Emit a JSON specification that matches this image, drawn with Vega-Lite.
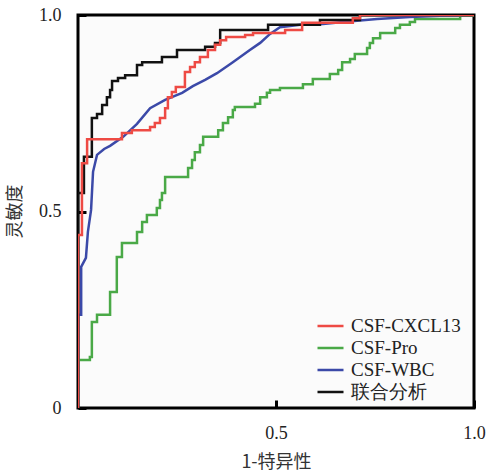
{
  "$schema": "https://vega.github.io/schema/vega-lite/v6.json",
  "width": 396,
  "height": 393,
  "autosize": {"type": "none"},
  "padding": {"left": 78, "top": 15, "right": 13, "bottom": 64},
  "background": "white",
  "config": {
    "view": {"stroke": "black", "strokeWidth": 3, "fill": "#fbfbfb"},
    "axis": {"grid": false, "domain": false, "labelFlush": false, "labelFont": "Liberation Serif", "labelFontSize": 18, "labelColor": "#222", "titleFont": "Noto Sans CJK SC", "titleFontSize": 18, "titleFontWeight": "normal", "titleColor": "#333", "tickColor": "black", "tickWidth": 3, "tickSize": -8}
  },
  "datasets": {
    "roc": [
      {"s": "联合分析", "i": 0, "x": 0, "y": 0},
      {"s": "联合分析", "i": 1, "x": 0, "y": 0.547},
      {"s": "联合分析", "i": 2, "x": 0.015, "y": 0.639},
      {"s": "联合分析", "i": 3, "x": 0.035, "y": 0.738},
      {"s": "联合分析", "i": 4, "x": 0.048, "y": 0.748},
      {"s": "联合分析", "i": 5, "x": 0.061, "y": 0.771},
      {"s": "联合分析", "i": 6, "x": 0.073, "y": 0.791},
      {"s": "联合分析", "i": 7, "x": 0.081, "y": 0.809},
      {"s": "联合分析", "i": 8, "x": 0.086, "y": 0.832},
      {"s": "联合分析", "i": 9, "x": 0.101, "y": 0.84},
      {"s": "联合分析", "i": 10, "x": 0.119, "y": 0.847},
      {"s": "联合分析", "i": 11, "x": 0.149, "y": 0.873},
      {"s": "联合分析", "i": 12, "x": 0.162, "y": 0.88},
      {"s": "联合分析", "i": 13, "x": 0.212, "y": 0.893},
      {"s": "联合分析", "i": 14, "x": 0.25, "y": 0.911},
      {"s": "联合分析", "i": 15, "x": 0.321, "y": 0.919},
      {"s": "联合分析", "i": 16, "x": 0.346, "y": 0.929},
      {"s": "联合分析", "i": 17, "x": 0.359, "y": 0.962},
      {"s": "联合分析", "i": 18, "x": 0.48, "y": 0.975},
      {"s": "联合分析", "i": 19, "x": 0.611, "y": 0.987},
      {"s": "联合分析", "i": 20, "x": 0.712, "y": 1},
      {"s": "联合分析", "i": 21, "x": 1, "y": 1},

      {"s": "CSF-CXCL13", "i": 0, "x": 0, "y": 0},
      {"s": "CSF-CXCL13", "i": 1, "x": 0, "y": 0.44},
      {"s": "CSF-CXCL13", "i": 2, "x": 0.01, "y": 0.623},
      {"s": "CSF-CXCL13", "i": 3, "x": 0.023, "y": 0.684},
      {"s": "CSF-CXCL13", "i": 4, "x": 0.111, "y": 0.7},
      {"s": "CSF-CXCL13", "i": 5, "x": 0.136, "y": 0.707},
      {"s": "CSF-CXCL13", "i": 6, "x": 0.182, "y": 0.715},
      {"s": "CSF-CXCL13", "i": 7, "x": 0.194, "y": 0.725},
      {"s": "CSF-CXCL13", "i": 8, "x": 0.207, "y": 0.738},
      {"s": "CSF-CXCL13", "i": 9, "x": 0.22, "y": 0.763},
      {"s": "CSF-CXCL13", "i": 10, "x": 0.227, "y": 0.791},
      {"s": "CSF-CXCL13", "i": 11, "x": 0.237, "y": 0.804},
      {"s": "CSF-CXCL13", "i": 12, "x": 0.247, "y": 0.817},
      {"s": "CSF-CXCL13", "i": 13, "x": 0.27, "y": 0.855},
      {"s": "CSF-CXCL13", "i": 14, "x": 0.283, "y": 0.868},
      {"s": "CSF-CXCL13", "i": 15, "x": 0.295, "y": 0.88},
      {"s": "CSF-CXCL13", "i": 16, "x": 0.308, "y": 0.893},
      {"s": "CSF-CXCL13", "i": 17, "x": 0.328, "y": 0.911},
      {"s": "CSF-CXCL13", "i": 18, "x": 0.346, "y": 0.924},
      {"s": "CSF-CXCL13", "i": 19, "x": 0.359, "y": 0.936},
      {"s": "CSF-CXCL13", "i": 20, "x": 0.374, "y": 0.944},
      {"s": "CSF-CXCL13", "i": 21, "x": 0.422, "y": 0.949},
      {"s": "CSF-CXCL13", "i": 22, "x": 0.442, "y": 0.954},
      {"s": "CSF-CXCL13", "i": 23, "x": 0.523, "y": 0.962},
      {"s": "CSF-CXCL13", "i": 24, "x": 0.566, "y": 0.98},
      {"s": "CSF-CXCL13", "i": 25, "x": 0.694, "y": 0.992},
      {"s": "CSF-CXCL13", "i": 26, "x": 0.712, "y": 1},
      {"s": "CSF-CXCL13", "i": 27, "x": 1, "y": 1},

      {"s": "CSF-Pro", "i": 0, "x": 0, "y": 0},
      {"s": "CSF-Pro", "i": 1, "x": 0, "y": 0.122},
      {"s": "CSF-Pro", "i": 2, "x": 0.03, "y": 0.13},
      {"s": "CSF-Pro", "i": 3, "x": 0.035, "y": 0.219},
      {"s": "CSF-Pro", "i": 4, "x": 0.048, "y": 0.237},
      {"s": "CSF-Pro", "i": 5, "x": 0.081, "y": 0.295},
      {"s": "CSF-Pro", "i": 6, "x": 0.098, "y": 0.384},
      {"s": "CSF-Pro", "i": 7, "x": 0.111, "y": 0.42},
      {"s": "CSF-Pro", "i": 8, "x": 0.149, "y": 0.448},
      {"s": "CSF-Pro", "i": 9, "x": 0.162, "y": 0.473},
      {"s": "CSF-Pro", "i": 10, "x": 0.174, "y": 0.491},
      {"s": "CSF-Pro", "i": 11, "x": 0.199, "y": 0.509},
      {"s": "CSF-Pro", "i": 12, "x": 0.207, "y": 0.529},
      {"s": "CSF-Pro", "i": 13, "x": 0.212, "y": 0.547},
      {"s": "CSF-Pro", "i": 14, "x": 0.22, "y": 0.588},
      {"s": "CSF-Pro", "i": 15, "x": 0.278, "y": 0.611},
      {"s": "CSF-Pro", "i": 16, "x": 0.288, "y": 0.631},
      {"s": "CSF-Pro", "i": 17, "x": 0.295, "y": 0.651},
      {"s": "CSF-Pro", "i": 18, "x": 0.308, "y": 0.669},
      {"s": "CSF-Pro", "i": 19, "x": 0.316, "y": 0.69},
      {"s": "CSF-Pro", "i": 20, "x": 0.354, "y": 0.707},
      {"s": "CSF-Pro", "i": 21, "x": 0.366, "y": 0.725},
      {"s": "CSF-Pro", "i": 22, "x": 0.379, "y": 0.74},
      {"s": "CSF-Pro", "i": 23, "x": 0.391, "y": 0.758},
      {"s": "CSF-Pro", "i": 24, "x": 0.396, "y": 0.766},
      {"s": "CSF-Pro", "i": 25, "x": 0.447, "y": 0.774},
      {"s": "CSF-Pro", "i": 26, "x": 0.46, "y": 0.791},
      {"s": "CSF-Pro", "i": 27, "x": 0.477, "y": 0.802},
      {"s": "CSF-Pro", "i": 28, "x": 0.485, "y": 0.809},
      {"s": "CSF-Pro", "i": 29, "x": 0.51, "y": 0.814},
      {"s": "CSF-Pro", "i": 30, "x": 0.568, "y": 0.824},
      {"s": "CSF-Pro", "i": 31, "x": 0.593, "y": 0.837},
      {"s": "CSF-Pro", "i": 32, "x": 0.636, "y": 0.85},
      {"s": "CSF-Pro", "i": 33, "x": 0.657, "y": 0.86},
      {"s": "CSF-Pro", "i": 34, "x": 0.667, "y": 0.88},
      {"s": "CSF-Pro", "i": 35, "x": 0.687, "y": 0.888},
      {"s": "CSF-Pro", "i": 36, "x": 0.699, "y": 0.901},
      {"s": "CSF-Pro", "i": 37, "x": 0.73, "y": 0.916},
      {"s": "CSF-Pro", "i": 38, "x": 0.737, "y": 0.929},
      {"s": "CSF-Pro", "i": 39, "x": 0.745, "y": 0.941},
      {"s": "CSF-Pro", "i": 40, "x": 0.763, "y": 0.954},
      {"s": "CSF-Pro", "i": 41, "x": 0.801, "y": 0.967},
      {"s": "CSF-Pro", "i": 42, "x": 0.813, "y": 0.975},
      {"s": "CSF-Pro", "i": 43, "x": 0.838, "y": 0.982},
      {"s": "CSF-Pro", "i": 44, "x": 0.851, "y": 0.99},
      {"s": "CSF-Pro", "i": 45, "x": 0.965, "y": 0.998},
      {"s": "CSF-Pro", "i": 46, "x": 1, "y": 0.998},

      {"s": "CSF-WBC", "i": 0, "x": 0, "y": 0},
      {"s": "CSF-WBC", "i": 1, "x": 0, "y": 0.237},
      {"s": "CSF-WBC", "i": 2, "x": 0.008, "y": 0.237},
      {"s": "CSF-WBC", "i": 3, "x": 0.008, "y": 0.359},
      {"s": "CSF-WBC", "i": 4, "x": 0.02, "y": 0.382},
      {"s": "CSF-WBC", "i": 5, "x": 0.025, "y": 0.448},
      {"s": "CSF-WBC", "i": 6, "x": 0.033, "y": 0.504},
      {"s": "CSF-WBC", "i": 7, "x": 0.038, "y": 0.601},
      {"s": "CSF-WBC", "i": 8, "x": 0.048, "y": 0.644},
      {"s": "CSF-WBC", "i": 9, "x": 0.066, "y": 0.659},
      {"s": "CSF-WBC", "i": 10, "x": 0.081, "y": 0.667},
      {"s": "CSF-WBC", "i": 11, "x": 0.114, "y": 0.69},
      {"s": "CSF-WBC", "i": 12, "x": 0.149, "y": 0.723},
      {"s": "CSF-WBC", "i": 13, "x": 0.182, "y": 0.763},
      {"s": "CSF-WBC", "i": 14, "x": 0.22, "y": 0.784},
      {"s": "CSF-WBC", "i": 15, "x": 0.263, "y": 0.802},
      {"s": "CSF-WBC", "i": 16, "x": 0.29, "y": 0.819},
      {"s": "CSF-WBC", "i": 17, "x": 0.321, "y": 0.835},
      {"s": "CSF-WBC", "i": 18, "x": 0.351, "y": 0.852},
      {"s": "CSF-WBC", "i": 19, "x": 0.391, "y": 0.88},
      {"s": "CSF-WBC", "i": 20, "x": 0.434, "y": 0.911},
      {"s": "CSF-WBC", "i": 21, "x": 0.46, "y": 0.929},
      {"s": "CSF-WBC", "i": 22, "x": 0.485, "y": 0.952},
      {"s": "CSF-WBC", "i": 23, "x": 0.51, "y": 0.969},
      {"s": "CSF-WBC", "i": 24, "x": 0.561, "y": 0.975},
      {"s": "CSF-WBC", "i": 25, "x": 0.619, "y": 0.977},
      {"s": "CSF-WBC", "i": 26, "x": 0.669, "y": 0.982},
      {"s": "CSF-WBC", "i": 27, "x": 0.755, "y": 0.99},
      {"s": "CSF-WBC", "i": 28, "x": 0.838, "y": 0.995},
      {"s": "CSF-WBC", "i": 29, "x": 0.914, "y": 0.998},
      {"s": "CSF-WBC", "i": 30, "x": 1, "y": 1}
    ]
  },
  "data": {"name": "roc"},
  "encoding": {
    "x": {"field": "x", "type": "quantitative", "scale": {"domain": [0, 1], "nice": false, "zero": false},
      "axis": {"values": [0.5, 1], "title": "1-特异性", "labelExpr": "format(datum.value, '.1f')", "labelPadding": 24, "titleX": 198, "titleY": 54, "titleBaseline": "middle", "titleAlign": "center"}},
    "y": {"field": "y", "type": "quantitative", "scale": {"domain": [0, 1], "nice": false, "zero": false},
      "axis": {"values": [0, 0.5, 1], "title": "灵敏度", "labelExpr": "datum.value == 0 ? '0' : format(datum.value, '.1f')", "labelPadding": 25, "titleX": -63, "titleY": 196, "titleAngle": -90, "titleBaseline": "middle", "titleAlign": "center"}},
    "color": {"field": "s", "type": "nominal",
      "scale": {"domain": ["CSF-CXCL13", "CSF-Pro", "CSF-WBC", "联合分析"], "range": ["#ee4a44", "#4aa947", "#3b49a8", "#111111"]},
      "legend": {"title": null, "orient": "none", "legendX": 238, "legendY": 301, "symbolType": "stroke", "symbolSize": 676, "symbolStrokeWidth": 2.5, "clipHeight": 20, "rowPadding": 2, "labelFont": "Liberation Serif", "labelFontSize": 19, "labelColor": "#222", "labelOffset": 6, "padding": 0}},
    "order": {"field": "i", "type": "quantitative"}
  },
  "layer": [
    {"transform": [{"filter": "datum.s == 'CSF-Pro'"}], "mark": {"type": "line", "interpolate": "step-after", "strokeWidth": 2.5, "clip": true}},
    {"transform": [{"filter": "datum.s == 'CSF-WBC'"}], "mark": {"type": "line", "interpolate": "linear", "strokeWidth": 2.5, "clip": true}},
    {"transform": [{"filter": "datum.s == '联合分析'"}], "mark": {"type": "line", "interpolate": "step-after", "strokeWidth": 2.5, "clip": true}},
    {"transform": [{"filter": "datum.s == 'CSF-CXCL13'"}], "mark": {"type": "line", "interpolate": "step-after", "strokeWidth": 2.5, "clip": true}}
  ]
}
